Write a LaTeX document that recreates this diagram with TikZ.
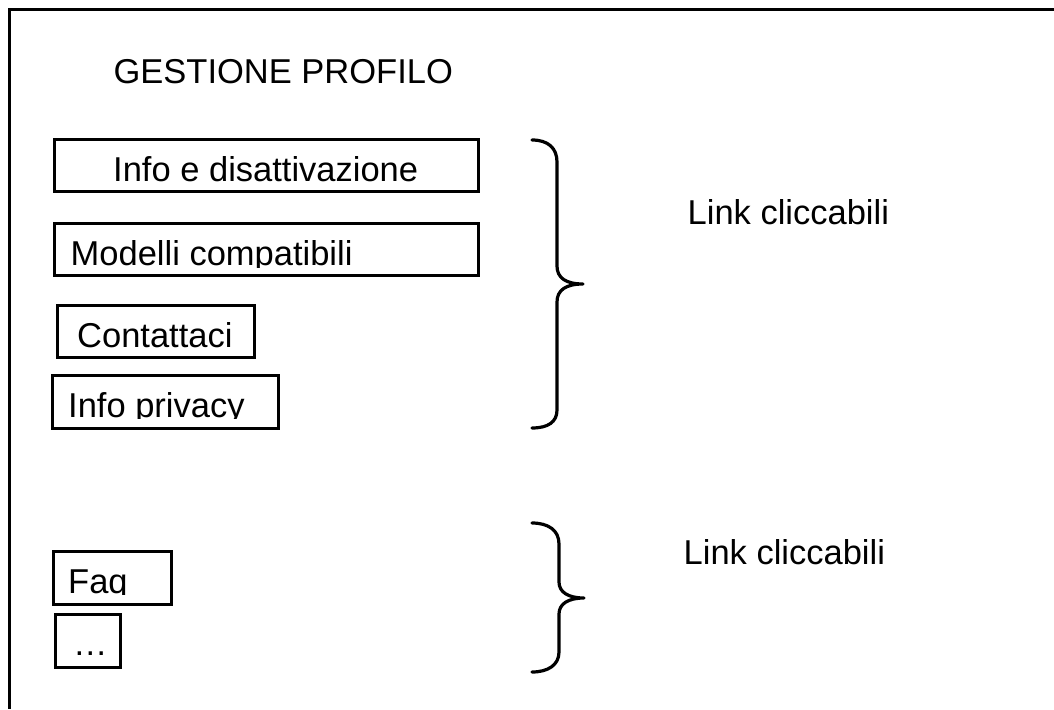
\documentclass[tikz,border=0pt]{standalone}
\usepackage{fontspec}
\setmainfont{Liberation Sans}
\begin{document}
\begin{tikzpicture}[x=1pt,y=-1pt,
  box/.style={draw=black, line width=3.5pt, fill=none, inner sep=0pt, rectangle},
  txt/.style={inner sep=0pt, anchor=base west, font=\fontsize{34.5}{40}\selectfont},
  brace/.style={draw=black, line width=3.2pt, line cap=round, line join=round}]
\useasboundingbox (0,0) rectangle (1054,709);
% frame (open on right and bottom)
\draw[line width=3.8pt] (1054,9.5) -- (9.5,9.5) -- (9.5,709);
% title
\node[txt] (title) at (113.4,83) {GESTIONE PROFILO};
% boxes
\node[box, minimum width=424pt, minimum height=52pt] (b1) at (266.5,165.5) {};
\node[box, minimum width=424pt, minimum height=52pt] (b2) at (266.5,249.5) {};
\node[box, minimum width=197pt, minimum height=52pt] (b3) at (156,331.5) {};
\node[box, minimum width=226pt, minimum height=53pt] (b4) at (165.5,402) {};
\node[box, minimum width=118pt, minimum height=53pt] (b5) at (112.5,578) {};
\node[box, minimum width=65pt, minimum height=53pt] (b6) at (88,641) {};
% box texts
\node[txt] (t1) at (113,181) {Info e disattivazione};
\begin{scope}
  \clip (50,200) rectangle (500,267);
  \node[txt] (t2) at (70.5,265) {Modelli compatibili};
\end{scope}
\node[txt] (t3) at (77,347) {Contattaci};
\begin{scope}
  \clip (50,380) rectangle (300,418.5);
  \node[txt] (t4) at (68,417) {Info privacy};
\end{scope}
\begin{scope}
  \clip (50,555) rectangle (200,594.5);
  \node[txt] (t5) at (68,593) {Faq};
\end{scope}
\node[txt] (t6) at (73,655) {…};
% braces
\draw[brace] (532,140) .. controls (548,140) and (557,148) .. (557,162)
  -- (557,266) .. controls (557,278) and (566,284) .. (583,284)
  .. controls (566,284) and (557,290) .. (557,302)
  -- (557,410) .. controls (557,422) and (548,428) .. (532,428);
\draw[brace] (532,523) .. controls (548,523) and (559,530) .. (559,544)
  -- (559,582) .. controls (559,592) and (568,598) .. (584,598)
  .. controls (568,598) and (559,604) .. (559,614)
  -- (559,652) .. controls (559,665) and (548,672) .. (532,672);
% labels
\node[txt] (l1) at (687.5,224) {Link cliccabili};
\node[txt] (l2) at (683.5,564) {Link cliccabili};
\end{tikzpicture}
\end{document}
